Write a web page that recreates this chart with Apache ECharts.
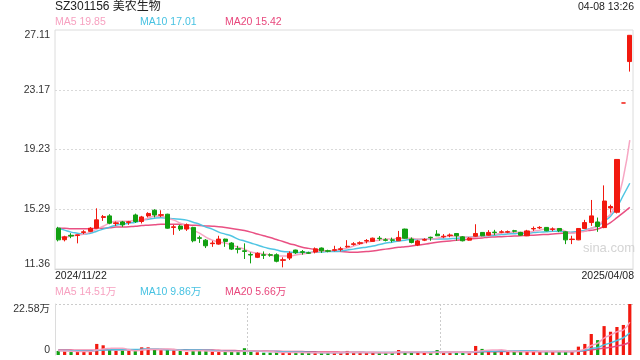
<!DOCTYPE html>
<html><head><meta charset="utf-8">
<script src="https://cdn.jsdelivr.net/npm/echarts@6/dist/echarts.min.js"></script>
<style>html,body{margin:0;padding:0;background:#fff}#c{width:640px;height:360px}</style>
</head><body><div id="c"></div>
<script>
const titleText = 'SZ301156 美农生物';
const timeText = '04-08 13:26';
const watermark = 'sina.com';
const dates = ['2024/11/22','2024/11/25','2024/11/26','2024/11/27','2024/11/28','2024/11/29',
'2024/12/02','2024/12/03','2024/12/04','2024/12/05','2024/12/06','2024/12/09','2024/12/10','2024/12/11','2024/12/12','2024/12/13',
'2024/12/16','2024/12/17','2024/12/18','2024/12/19','2024/12/20','2024/12/23','2024/12/24','2024/12/25','2024/12/26','2024/12/27',
'2024/12/30','2024/12/31','2025/01/02','2025/01/03','2025/01/06','2025/01/07','2025/01/08','2025/01/09','2025/01/10',
'2025/01/13','2025/01/14','2025/01/15','2025/01/16','2025/01/17','2025/01/20','2025/01/21','2025/01/22','2025/01/23','2025/01/24','2025/01/27',
'2025/02/05','2025/02/06','2025/02/07','2025/02/10','2025/02/11','2025/02/12','2025/02/13','2025/02/14','2025/02/17','2025/02/18','2025/02/19','2025/02/20','2025/02/21',
'2025/02/24','2025/02/25','2025/02/26','2025/02/27','2025/02/28','2025/03/03','2025/03/04','2025/03/05','2025/03/06','2025/03/07',
'2025/03/10','2025/03/11','2025/03/12','2025/03/13','2025/03/14','2025/03/17','2025/03/18','2025/03/19','2025/03/20','2025/03/21',
'2025/03/24','2025/03/25','2025/03/26','2025/03/27','2025/03/28','2025/03/31','2025/04/01','2025/04/02','2025/04/03','2025/04/07','2025/04/08'];
const openP = [14.05,13.29,13.58,13.57,13.77,13.84,14.05,14.76,14.86,14.36,14.46,14.43,14.92,14.49,14.86,15.23,14.90,14.97,14.10,14.19,
13.99,14.10,13.42,13.26,13.03,13.00,13.33,13.07,12.70,12.56,12.32,12.13,12.30,12.30,12.30,11.93,12.08,12.61,12.50,12.43,
12.48,12.74,12.56,12.59,12.65,12.82,12.98,13.05,13.20,13.18,13.39,13.28,13.28,13.22,13.99,13.33,12.94,13.26,13.45,13.66,
13.48,13.56,13.70,13.48,13.26,13.52,13.77,13.59,13.79,13.78,13.79,13.88,13.77,13.55,14.00,14.07,14.10,13.97,14.03,13.81,
13.30,13.28,14.03,14.42,14.46,14.09,15.38,15.10,22.30,25.03];
const highP = [14.14,13.55,13.72,13.63,13.92,14.12,15.36,14.92,14.97,14.49,14.53,14.53,15.01,14.86,15.10,15.30,15.23,15.00,14.27,14.27,
14.36,14.14,13.55,13.33,13.22,13.55,13.36,13.13,12.89,13.05,12.46,12.46,12.52,12.39,12.39,12.13,12.52,12.63,12.61,12.50,
12.78,12.78,12.63,12.89,12.82,13.26,13.13,13.18,13.33,13.43,13.53,13.39,13.43,13.87,14.02,13.44,13.28,13.39,13.49,13.92,
13.66,13.70,13.72,13.53,13.46,14.31,13.79,13.92,13.94,13.92,13.90,13.94,13.81,13.94,14.16,14.18,14.12,14.10,14.05,13.85,
13.55,14.05,14.60,15.91,14.75,16.87,15.60,18.58,22.30,26.76];
const lowP = [13.18,13.18,13.39,13.05,13.66,13.79,14.03,14.53,14.31,14.20,14.14,14.27,14.40,14.36,14.76,14.76,14.78,14.02,13.61,13.87,
13.87,13.12,13.08,12.74,12.82,12.96,12.82,12.61,12.39,12.02,11.73,12.08,12.02,12.17,11.80,11.47,11.95,12.35,12.30,12.36,
12.39,12.42,12.46,12.52,12.52,12.76,12.90,12.96,13.05,13.17,13.22,13.18,13.11,13.20,13.36,13.05,12.87,13.20,13.22,13.53,
13.39,13.45,13.22,13.18,13.23,13.48,13.52,13.55,13.59,13.72,13.72,13.77,13.55,13.53,13.87,13.99,13.85,13.85,13.79,13.00,
13.00,13.26,13.99,14.20,13.81,14.05,15.08,15.02,22.30,24.37];
const closeP = [13.28,13.48,13.53,13.61,13.81,14.05,14.60,14.81,14.38,14.40,14.27,14.47,14.49,14.79,15.02,14.92,14.94,14.05,14.14,13.99,
14.27,13.22,13.38,12.89,13.07,13.33,13.18,12.67,12.66,12.52,12.28,12.39,12.26,12.27,11.87,11.97,12.39,12.43,12.46,12.40,
12.69,12.56,12.53,12.63,12.69,12.86,13.02,13.09,13.24,13.39,13.36,13.25,13.25,13.44,13.39,13.11,13.21,13.30,13.42,13.55,
13.52,13.60,13.55,13.22,13.39,13.70,13.55,13.77,13.76,13.81,13.82,13.85,13.59,13.87,14.03,14.10,13.88,14.00,13.88,13.28,
13.33,14.03,14.42,14.86,14.16,15.84,15.48,18.58,22.30,26.76];
const ma5 = [13.46,13.46,13.53,13.59,13.66,13.79,13.99,14.18,14.38,14.51,14.51,14.51,14.58,14.58,14.71,14.84,14.84,14.71,14.58,14.38,
14.18,13.92,13.72,13.46,13.26,13.13,13.07,12.94,12.80,12.67,12.48,12.41,12.35,12.28,12.21,12.21,12.21,12.28,12.35,12.41,
12.48,12.54,12.54,12.61,12.67,12.74,12.87,13.00,13.13,13.20,13.26,13.33,13.33,13.39,13.39,13.39,13.33,13.33,13.33,13.39,
13.46,13.53,13.53,13.46,13.46,13.46,13.53,13.59,13.66,13.72,13.79,13.79,13.79,13.79,13.85,13.92,13.99,13.99,13.99,13.85,
13.72,13.79,13.85,14.05,14.18,14.64,14.97,15.82,17.40,19.85];
const ma10 = [14.05,13.92,13.79,13.72,13.66,13.72,13.85,13.99,14.12,14.25,14.31,14.38,14.44,14.58,14.64,14.71,14.74,14.71,14.67,14.64,
14.58,14.44,14.31,14.12,13.99,13.79,13.66,13.53,13.33,13.20,13.07,12.94,12.80,12.70,12.61,12.51,12.48,12.44,12.44,12.44,
12.48,12.48,12.51,12.51,12.54,12.61,12.67,12.74,12.80,12.87,12.97,13.07,13.13,13.20,13.26,13.30,13.30,13.33,13.33,13.33,
13.33,13.36,13.39,13.43,13.46,13.49,13.53,13.56,13.59,13.63,13.66,13.69,13.72,13.72,13.76,13.79,13.82,13.85,13.85,13.82,
13.79,13.85,13.92,14.05,14.18,14.51,14.84,15.43,16.22,17.01];
const ma20 = [14.05,14.05,14.02,14.02,14.02,14.02,14.05,14.05,14.08,14.12,14.12,14.15,14.18,14.22,14.25,14.28,14.31,14.31,14.31,14.31,
14.28,14.25,14.23,14.20,14.18,14.15,14.10,14.03,13.97,13.89,13.79,13.67,13.55,13.43,13.30,13.17,13.03,12.92,12.80,12.72,
12.64,12.59,12.55,12.53,12.51,12.48,12.46,12.48,12.51,12.55,12.61,12.67,12.73,12.79,12.83,12.88,12.94,12.99,13.05,13.13,
13.17,13.21,13.25,13.29,13.33,13.37,13.41,13.45,13.47,13.49,13.51,13.53,13.55,13.57,13.59,13.62,13.64,13.67,13.70,13.72,
13.77,13.81,13.87,13.92,13.99,14.18,14.42,14.74,15.08,15.42];
const volume = [1.8,1.6,1.3,1.5,1.5,1.6,4.9,4.3,2.2,1.8,1.9,1.8,1.9,3.4,3.4,2.2,2.1,2.2,2.1,1.9,
1.3,1.9,1.9,1.8,1.5,1.3,1.6,1.5,1.5,3.0,1.6,1.2,1.0,1.0,1.2,1.0,1.2,1.0,1.0,1.0,
1.0,1.0,1.0,1.0,1.0,1.8,1.0,1.0,1.0,1.2,1.0,1.0,1.0,2.2,1.0,1.0,1.0,1.0,1.0,2.2,
1.0,1.0,1.0,1.0,1.0,4.0,2.7,1.8,1.5,1.5,1.5,1.5,1.5,1.5,1.5,1.5,1.5,1.5,1.5,1.5,
1.5,3.7,4.9,9.3,6.6,12.8,10.3,12.4,13.3,22.58];
const vma5 = [1.9,1.8,1.7,1.6,1.6,1.5,2.2,2.7,2.9,3.0,3.0,2.4,1.9,2.2,2.5,2.5,2.6,2.7,2.4,2.1,
1.9,1.9,1.9,1.8,1.7,1.7,1.6,1.5,1.5,1.8,1.8,1.8,1.7,1.6,1.2,1.1,1.1,1.1,1.1,1.0,
1.0,1.0,1.0,1.0,1.0,1.2,1.15,1.15,1.15,1.2,1.05,1.05,1.05,1.3,1.3,1.3,1.3,1.25,1.0,1.25,
1.25,1.25,1.25,1.25,1.0,1.6,1.9,2.1,2.2,2.3,1.8,1.6,1.5,1.5,1.5,1.5,1.5,1.5,1.5,1.5,
1.5,1.9,2.6,4.2,5.2,7.5,8.8,10.3,11.1,14.51];
const vma10 = [2.0,2.0,1.9,1.9,1.8,1.8,2.0,2.2,2.3,2.3,2.4,2.4,2.4,2.6,2.7,2.7,2.5,2.3,2.3,2.3,
2.2,2.2,2.2,2.1,2.0,1.8,1.7,1.7,1.6,1.8,1.7,1.7,1.6,1.5,1.5,1.4,1.4,1.3,1.3,1.2,
1.1,1.05,1.05,1.05,1.05,1.1,1.1,1.1,1.1,1.1,1.1,1.1,1.1,1.2,1.2,1.2,1.2,1.2,1.2,1.3,
1.15,1.15,1.15,1.15,1.15,1.4,1.6,1.7,1.7,1.75,1.8,1.8,1.85,1.9,1.9,1.6,1.5,1.5,1.5,1.5,
1.5,1.72,2.06,2.84,3.35,4.48,5.36,6.45,7.63,9.86];
const vma20 = [2.2,2.2,2.2,2.1,2.1,2.1,2.2,2.3,2.3,2.3,2.3,2.3,2.3,2.4,2.4,2.4,2.4,2.4,2.4,2.3,
2.3,2.2,2.2,2.2,2.2,2.1,2.0,2.0,1.9,1.9,1.9,1.8,1.8,1.7,1.7,1.6,1.6,1.5,1.5,1.4,
1.4,1.3,1.3,1.3,1.25,1.25,1.2,1.2,1.15,1.15,1.1,1.1,1.1,1.15,1.15,1.15,1.15,1.15,1.15,1.2,
1.2,1.2,1.2,1.2,1.2,1.3,1.4,1.4,1.45,1.5,1.5,1.5,1.5,1.55,1.55,1.55,1.6,1.6,1.6,1.6,
1.6,1.74,1.93,2.35,2.63,3.07,3.45,3.98,4.57,5.66];
const priceTicks = ['11.36','15.29','19.23','23.17','27.11'];
const volTicks = ['0','22.58万'];
const priceLegend = ['MA5 19.85','MA10 17.01','MA20 15.42'];
const volLegend = ['MA5 14.51万','MA10 9.86万','MA20 5.66万'];

const UP = '#f2190f', DOWN = '#11a011';
const C5 = '#f7a1c0', C10 = '#47c2e2', C20 = '#e8477c';
const FONT = '"Liberation Sans", Arial, "Noto Sans CJK SC", sans-serif';

const pMin = Number(priceTicks[0]), pMax = Number(priceTicks[priceTicks.length-1]);
const vMax = parseFloat(volTicks[1]);
const nearestLabel = (ticks, v) => {
  let best = ticks[0], d = Infinity;
  ticks.forEach(t => { const dd = Math.abs(parseFloat(t) - v); if (dd < d) { d = dd; best = t; } });
  return best;
};
const kData = openP.map((o, i) => [o, closeP[i], lowP[i], highP[i]]);
const volData = volume.map((v, i) => {
  const up = closeP[i] > openP[i] || (closeP[i] === openP[i] && (i === 0 || closeP[i] >= closeP[i-1]));
  return { value: v, itemStyle: { color: up ? UP : DOWN } };
});

const chart = echarts.init(document.getElementById('c'), null, { renderer: 'canvas' });
const lineS = (name, data, color, xi, yi) => ({
  name, type: 'line', data, xAxisIndex: xi, yAxisIndex: yi, symbol: 'none', smooth: true,
  lineStyle: { color, width: 1.5, opacity: 0.95 }, z: 3, silent: true, animation: false
});
const txt = (text, pos, color, size) => ({ type: 'text', ...pos, style: { text, fill: color, fontSize: size, fontFamily: FONT } });

chart.setOption({
  animation: false,
  backgroundColor: '#ffffff',
  grid: [
    { left: 55, right: 7, top: 30, height: 239, show: true, borderColor: '#dcdcdc', borderWidth: 1 },
    { left: 55, right: 7, top: 304, height: 51 }
  ],
  xAxis: [
    { type: 'category', gridIndex: 0, data: dates, boundaryGap: true,
      axisLine: { show: true, lineStyle: { color: '#d2d2d2', width: 1 } }, axisTick: { show: false }, axisLabel: { show: false }, splitLine: { show: false } },
    { type: 'category', gridIndex: 1, data: dates, boundaryGap: true,
      axisLine: { show: false }, axisTick: { show: false }, axisLabel: { show: false }, splitLine: { show: false } },
    { type: 'value', gridIndex: 1, position: 'top', min: 0, max: 3, interval: 1,
      axisLine: { show: false }, axisTick: { show: false }, axisLabel: { show: false },
      splitLine: { show: true, showMinLine: false, showMaxLine: false, lineStyle: { color: '#cccccc', type: [2, 2], width: 1 } } }
  ],
  yAxis: [
    { type: 'value', gridIndex: 0, min: pMin, max: pMax, interval: (pMax - pMin) / 4, scale: true,
      axisLine: { show: false }, axisTick: { show: false },
      axisLabel: { color: '#333', fontSize: 10.5, fontFamily: FONT, margin: 5,
        verticalAlignMinLabel: 'bottom', verticalAlignMaxLabel: 'top',
        formatter: v => nearestLabel(priceTicks, v) },
      splitLine: { show: true, showMinLine: false, showMaxLine: false, lineStyle: { color: '#d9d9d9', type: [2, 2], width: 1 } } },
    { type: 'value', gridIndex: 1, min: 0, max: vMax, interval: vMax,
      axisLine: { show: true, lineStyle: { color: '#dcdcdc' } }, axisTick: { show: false },
      axisLabel: { color: '#333', fontSize: 10.5, fontFamily: FONT, margin: 5,
        verticalAlignMinLabel: 'bottom', verticalAlignMaxLabel: 'top',
        formatter: v => nearestLabel(volTicks, v) },
      splitLine: { show: true, showMinLine: false, showMaxLine: true, lineStyle: { color: '#cccccc', type: [2, 2], width: 1 } } }
  ],
  series: [
    lineS('MA20', ma20, C20, 0, 0),
    lineS('MA10', ma10, C10, 0, 0),
    lineS('MA5', ma5, C5, 0, 0),
    { name: 'K', type: 'candlestick', xAxisIndex: 0, yAxisIndex: 0, data: kData, barWidth: '72%', z: 4,
      itemStyle: { color: UP, color0: DOWN, borderColor: UP, borderColor0: DOWN, borderWidth: 1 } },
    { name: 'Vol', type: 'bar', xAxisIndex: 1, yAxisIndex: 1, data: volData, barWidth: '50%', z: 2 },
    lineS('VMA20', vma20, C20, 1, 1),
    lineS('VMA10', vma10, C10, 1, 1),
    lineS('VMA5', vma5, C5, 1, 1)
  ],
  graphic: [
    txt(titleText, { left: 55, top: 1 }, '#222', 12),
    txt(timeText, { right: 6, top: 2 }, '#222', 10.5),
    txt(priceLegend[0], { left: 55, top: 17 }, C5, 10.5),
    txt(priceLegend[1], { left: 140, top: 17 }, C10, 10.5),
    txt(priceLegend[2], { left: 225, top: 17 }, C20, 10.5),
    txt(dates[0], { left: 55, top: 271 }, '#222', 10.5),
    txt(dates[dates.length - 1], { right: 6, top: 271 }, '#222', 10.5),
    txt(volLegend[0], { left: 55, top: 287 }, C5, 10.5),
    txt(volLegend[1], { left: 140, top: 287 }, C10, 10.5),
    txt(volLegend[2], { left: 225, top: 287 }, C20, 10.5),
    txt(watermark, { left: 583, top: 242 }, '#d4d4d4', 13)
  ]
});
</script></body></html>
